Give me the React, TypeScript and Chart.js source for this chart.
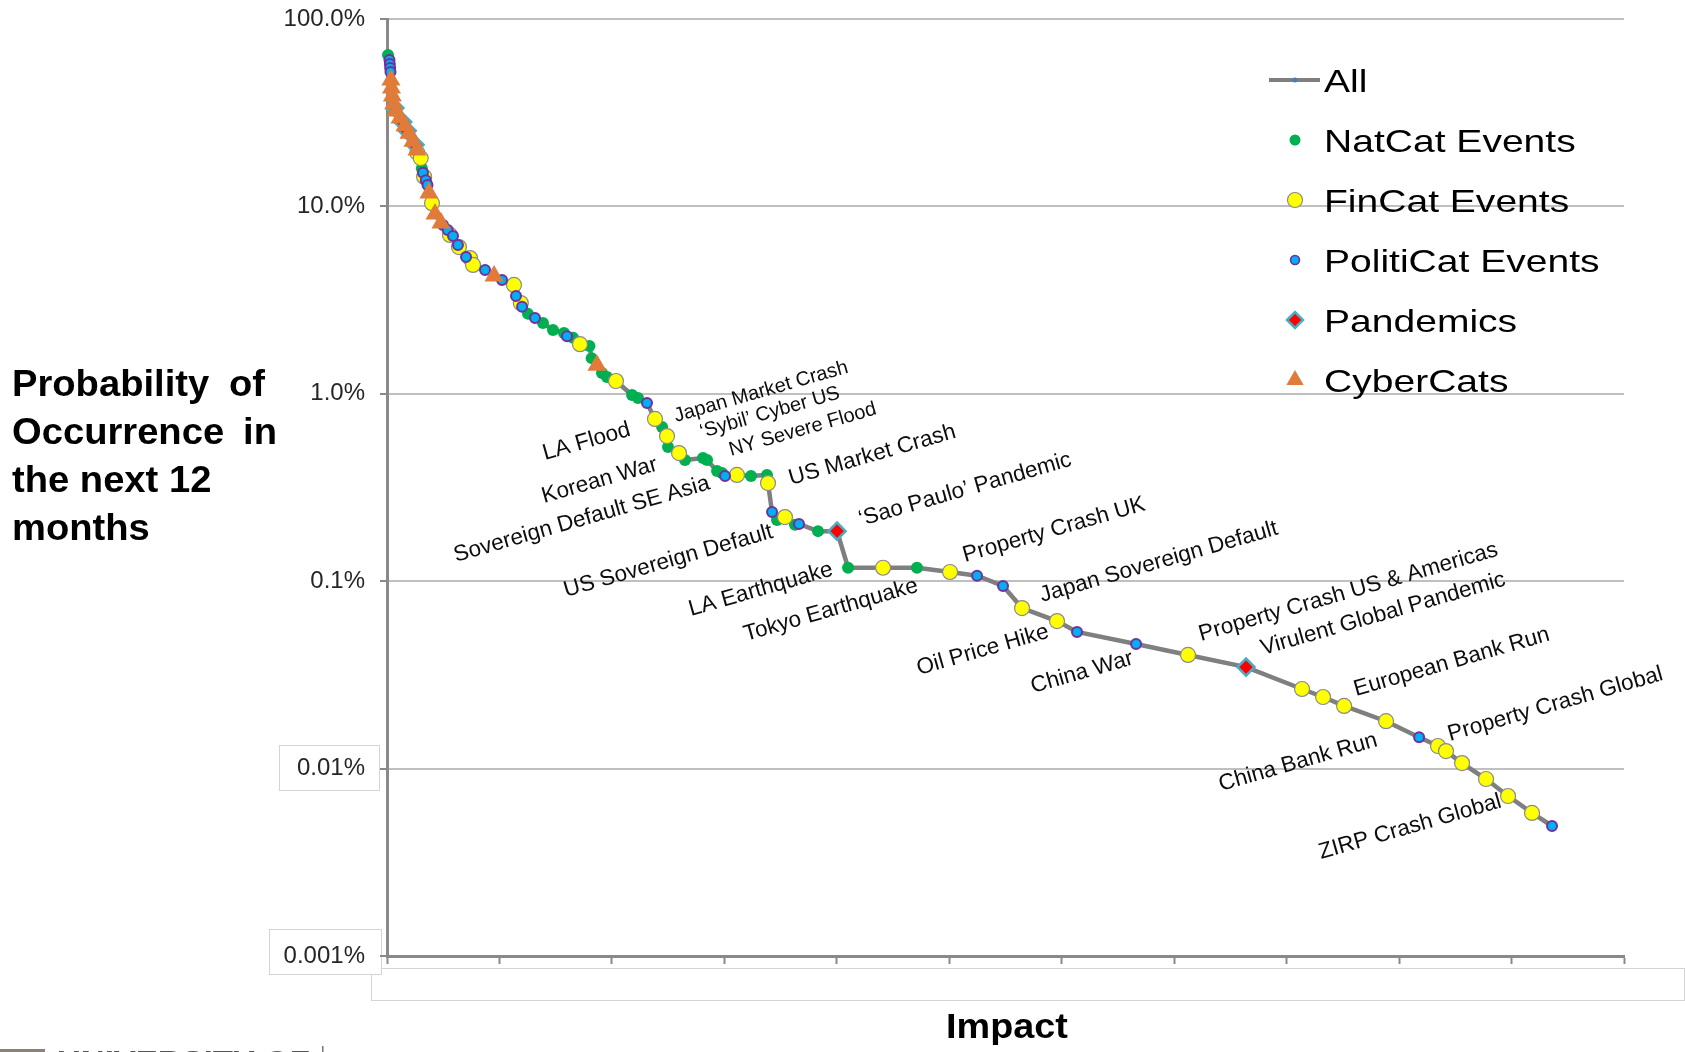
import { useEffect, useRef } from 'react';
import { Chart, registerables } from 'chart.js';

Chart.register(...registerables);

// ---------- data: [impact (arbitrary units 0-11), probability of occurrence (%)] ----------
const natCatEvents: [number, number][] = [
  [0.009, 64.2], [0.31, 16.0], [1.254, 2.67], [1.387, 2.39], [1.476, 2.19], [1.574, 2.11],
  [1.654, 1.99], [1.8, 1.8], [1.82, 1.55], [1.912, 1.29], [1.956, 1.23], [2.179, 0.985],
  [2.232, 0.95], [2.446, 0.665], [2.499, 0.52], [2.65, 0.443], [2.81, 0.454], [2.846, 0.443],
  [2.935, 0.387], [2.979, 0.378], [3.237, 0.364], [3.379, 0.369], [3.468, 0.212], [3.628, 0.2],
  [3.833, 0.185], [4.1, 0.118], [4.713, 0.118],
];

const finCatEvents: [number, number][] = [
  [0.27, 19.3], [0.3, 18.1], [0.33, 14.4], [0.4, 10.4], [0.56, 7.04], [0.64, 6.07],
  [0.738, 5.3], [0.765, 4.87], [1.129, 3.81], [1.19, 3.05], [1.716, 1.84], [2.036, 1.17],
  [2.383, 0.734], [2.49, 0.595], [2.597, 0.483], [3.112, 0.369], [3.388, 0.334], [3.539, 0.22],
  [4.411, 0.118], [5.007, 0.112], [5.647, 0.0719], [5.958, 0.0613], [7.123, 0.0404],
  [8.137, 0.0266], [8.324, 0.0241], [8.511, 0.0216], [8.884, 0.0179], [9.346, 0.0132],
  [9.417, 0.0124], [9.56, 0.0107], [9.773, 0.0088], [9.969, 0.00714], [10.182, 0.0058],
];

const politiCatEvents: [number, number][] = [
  [0.022, 60.4], [0.025, 57.5], [0.028, 54.8], [0.031, 52.1], [0.32, 15.1], [0.345, 13.8],
  [0.36, 13.0], [0.498, 7.96], [0.54, 7.48], [0.587, 6.95], [0.631, 6.22], [0.703, 5.37],
  [0.872, 4.58], [1.023, 4.05], [1.147, 3.33], [1.201, 2.91], [1.316, 2.54], [1.601, 2.03],
  [2.312, 0.893], [3.006, 0.364], [3.424, 0.234], [3.664, 0.202], [5.247, 0.107],
  [5.478, 0.0943], [6.136, 0.0536], [6.661, 0.0462], [9.178, 0.0147], [10.36, 0.00494],
];

const pandemicEvents: [number, number][] = [
  [0.07, 33.5], [0.14, 28.2], [0.18, 25.3], [0.25, 21.3], [4.002, 0.185], [7.639, 0.0348],
];

const cyberCatEvents: [number, number][] = [
  [0.035, 47.3], [0.04, 42.8], [0.048, 38.8], [0.06, 35.2], [0.08, 32.3], [0.116, 29.6],
  [0.16, 26.9], [0.196, 24.6], [0.231, 22.3], [0.267, 20.0], [0.373, 11.8], [0.427, 9.11],
  [0.48, 8.15], [0.952, 4.25], [1.867, 1.42],
];

// event annotations: [text, impact, probability %, font size] (baseline start of the label)
const eventLabels: [string, number, number, number][] = [
  ['LA Flood', 1.405, 0.443, 22.5],
  ['Korean War', 1.396, 0.2615, 22.5],
  ['Sovereign Default SE Asia', 0.614, 0.1266, 22.5],
  ['Japan Market Crash', 2.57, 0.7073, 20],
  ['\u2018Sybil\u2019 Cyber US', 2.801, 0.5809, 20],
  ['NY Severe Flood', 3.059, 0.4657, 20],
  ['US Market Crash', 3.593, 0.3262, 22.5],
  ['US Sovereign Default', 1.592, 0.0823, 22.5],
  ['\u2018Sao Paulo\u2019 Pandemic', 4.215, 0.197, 22.5],
  ['LA Earthquake', 2.703, 0.0652, 22.5],
  ['Tokyo Earthquake', 3.193, 0.048, 22.5],
  ['Property Crash UK', 5.14, 0.1266, 22.5],
  ['Japan Sovereign Default', 5.825, 0.0774, 22.5],
  ['Oil Price Hike', 4.731, 0.0316, 22.5],
  ['China War', 5.745, 0.0253, 22.5],
  ['Property Crash US & Americas', 7.239, 0.048, 22.5],
  ['Virulent Global Pandemic', 7.79, 0.0404, 22.5],
  ['European Bank Run', 8.617, 0.0244, 22.5],
  ['Property Crash Global', 9.453, 0.01404, 22.5],
  ['China Bank Run', 7.417, 0.0076, 22.5],
  ['ZIRP Crash Global', 8.306, 0.00329, 22.5],
];

const yTickValues = [0.001, 0.01, 0.1, 1, 10, 100];
const yTickLabels = ['0.001%', '0.01%', '0.1%', '1.0%', '10.0%', '100.0%'];
const xTickValues = [0, 1, 2, 3, 4, 5, 6, 7, 8, 9, 10, 11];

const seriesNames = ['All', 'NatCat Events', 'FinCat Events', 'PolitiCat Events', 'Pandemics', 'CyberCats'];
const yTitleLines: [string, string][] = [
  ['Probability', 'of'],
  ['Occurrence', 'in'],
  ['the next 12', ''],
  ['months', ''],
];
const xTitle = 'Impact';
const logoText = 'UNIVERSITY OF';

// ---------- styles ----------
const FONT = '"Liberation Sans", Arial, Helvetica, sans-serif';
const GREEN = '#00b050';
const YELLOW = '#ffff00';
const BLUE = '#00b0f0';
const PURPLE = '#7030a0';
const RED = '#ff0000';
const TEAL = '#4bacc6';
const ORANGE = '#e07b39';
const LINE_GREY = '#7f7f7f';
const AXIS_GREY = '#898989';
const GRID_GREY = '#c0c0c0';

const toPts = (arr: [number, number][]) => arr.map(([x, y]) => ({ x, y }));

function drawText(
  ctx: CanvasRenderingContext2D, text: string, x: number, y: number, font: string,
  color: string, sx = 1, align: CanvasTextAlign = 'left', angle = 0,
) {
  ctx.save();
  ctx.translate(x, y);
  if (angle) ctx.rotate(angle);
  ctx.scale(sx, 1);
  ctx.font = font;
  ctx.fillStyle = color;
  ctx.textAlign = align;
  ctx.textBaseline = 'alphabetic';
  ctx.fillText(text, 0, 0);
  ctx.restore();
}

function boxRect(ctx: CanvasRenderingContext2D, x1: number, y1: number, x2: number, y2: number) {
  ctx.save();
  ctx.fillStyle = '#ffffff';
  ctx.fillRect(x1, y1, x2 - x1, y2 - y1);
  ctx.strokeStyle = '#d4d4d4';
  ctx.lineWidth = 1;
  ctx.strokeRect(x1 + 0.5, y1 + 0.5, x2 - x1, y2 - y1);
  ctx.restore();
}

const decorPlugin = {
  id: 'decor',
  beforeDraw(chart: any) {
    const ctx = chart.ctx as CanvasRenderingContext2D;
    // faint framing boxes present in the source image
    boxRect(ctx, 371, 968, 1684, 1000);
    boxRect(ctx, 269, 929, 381, 974);
    boxRect(ctx, 279, 745, 379, 790);
  },
  afterDraw(chart: any) {
    const ctx = chart.ctx as CanvasRenderingContext2D;
    const xs = chart.scales.x;
    const ys = chart.scales.y;

    // y-axis title
    const tf = `bold 36px ${FONT}`;
    const baselines = [396, 444, 492, 540];
    const rightEdges = [265, 277, 0, 0];
    yTitleLines.forEach(([a, b], i) => {
      drawText(ctx, a, 12, baselines[i], tf, '#000', 1.06, 'left');
      if (b) drawText(ctx, b, rightEdges[i], baselines[i], tf, '#000', 1.06, 'right');
    });

    // x-axis title
    drawText(ctx, xTitle, 1007, 1038, `bold 35px ${FONT}`, '#000', 1.08, 'center');

    // event annotations
    const ang = (-16 * Math.PI) / 180;
    eventLabels.forEach(([t, ix, p, fs]) => {
      drawText(ctx, t, xs.getPixelForValue(ix), ys.getPixelForValue(p), `${fs}px ${FONT}`, '#0d0d0d', 1, 'left', ang);
    });

    // legend
    const lx = 1295;
    const tx = 1324;
    const rowY = [80, 140, 200, 260, 320, 380];
    const lf = `32px ${FONT}`;
    seriesNames.forEach((name, i) => {
      const y = rowY[i];
      ctx.save();
      if (i === 0) {
        ctx.strokeStyle = LINE_GREY;
        ctx.lineWidth = 4;
        ctx.beginPath();
        ctx.moveTo(1269, y);
        ctx.lineTo(1320, y);
        ctx.stroke();
        ctx.fillStyle = '#4a7ebb';
        ctx.beginPath();
        ctx.arc(lx, y, 2.5, 0, Math.PI * 2);
        ctx.fill();
      } else if (i === 1) {
        ctx.fillStyle = GREEN;
        ctx.beginPath();
        ctx.arc(lx, y, 5.5, 0, Math.PI * 2);
        ctx.fill();
      } else if (i === 2) {
        ctx.fillStyle = YELLOW;
        ctx.strokeStyle = '#8a8a8a';
        ctx.lineWidth = 1.2;
        ctx.beginPath();
        ctx.arc(lx, y, 7.5, 0, Math.PI * 2);
        ctx.fill();
        ctx.stroke();
      } else if (i === 3) {
        ctx.fillStyle = BLUE;
        ctx.strokeStyle = PURPLE;
        ctx.lineWidth = 1.6;
        ctx.beginPath();
        ctx.arc(lx, y, 4.5, 0, Math.PI * 2);
        ctx.fill();
        ctx.stroke();
      } else if (i === 4) {
        const r = 8;
        ctx.fillStyle = RED;
        ctx.strokeStyle = TEAL;
        ctx.lineWidth = 2.5;
        ctx.beginPath();
        ctx.moveTo(lx - r, y);
        ctx.lineTo(lx, y - r);
        ctx.lineTo(lx + r, y);
        ctx.lineTo(lx, y + r);
        ctx.closePath();
        ctx.fill();
        ctx.stroke();
      } else {
        const r = 10;
        ctx.fillStyle = ORANGE;
        ctx.beginPath();
        ctx.moveTo(lx, y - r);
        ctx.lineTo(lx + r * 0.866, y + r * 0.5);
        ctx.lineTo(lx - r * 0.866, y + r * 0.5);
        ctx.closePath();
        ctx.fill();
      }
      ctx.restore();
      drawText(ctx, name, tx, y + 11.5, lf, '#000', 1.22, 'left');
    });

    // partially visible logo at the very bottom edge
    ctx.save();
    ctx.fillStyle = '#8c8275';
    ctx.fillRect(0, 1049, 45, 3);
    ctx.fillStyle = '#777';
    ctx.fillRect(322, 1046, 1.5, 6);
    ctx.restore();
    drawText(ctx, logoText, 57, 1071, `bold 30px ${FONT}`, '#555', 1.1, 'left');
  },
};

export default function App() {
  const canvasRef = useRef<HTMLCanvasElement | null>(null);

  useEffect(() => {
    if (!canvasRef.current) return;
    const allPoints = [
      ...natCatEvents, ...finCatEvents, ...politiCatEvents, ...pandemicEvents, ...cyberCatEvents,
    ]
      .slice()
      .sort((a, b) => a[0] - b[0] || b[1] - a[1]);

    const chart = new Chart(canvasRef.current, {
      type: 'scatter',
      data: {
        datasets: [
          {
            label: seriesNames[0],
            data: toPts(allPoints),
            showLine: true,
            borderColor: LINE_GREY,
            borderWidth: 4.5,
            pointRadius: 2.5,
            pointBackgroundColor: '#4a7ebb',
            pointBorderWidth: 0,
            order: 6,
            clip: false,
          },
          {
            label: seriesNames[1],
            data: toPts(natCatEvents),
            pointRadius: 6,
            pointBackgroundColor: GREEN,
            pointBorderColor: GREEN,
            pointBorderWidth: 0,
            order: 5,
            clip: false,
          },
          {
            label: seriesNames[2],
            data: toPts(finCatEvents),
            pointRadius: 7.5,
            pointBackgroundColor: YELLOW,
            pointBorderColor: '#8a8a8a',
            pointBorderWidth: 1.2,
            order: 4,
            clip: false,
          },
          {
            label: seriesNames[3],
            data: toPts(politiCatEvents),
            pointRadius: 5,
            pointBackgroundColor: BLUE,
            pointBorderColor: PURPLE,
            pointBorderWidth: 2,
            order: 3,
            clip: false,
          },
          {
            label: seriesNames[4],
            data: toPts(pandemicEvents),
            pointStyle: 'rectRot',
            pointRadius: 8.5,
            pointBackgroundColor: RED,
            pointBorderColor: TEAL,
            pointBorderWidth: 2.5,
            order: 2,
            clip: false,
          },
          {
            label: seriesNames[5],
            data: toPts(cyberCatEvents),
            pointStyle: 'triangle',
            pointRadius: 11,
            pointBackgroundColor: ORANGE,
            pointBorderColor: ORANGE,
            pointBorderWidth: 0,
            order: 1,
            clip: false,
          },
        ],
      },
      options: {
        responsive: false,
        animation: false,
        events: [],
        layout: { padding: { left: 0, right: 61, top: 19, bottom: 0 } },
        plugins: {
          legend: { display: false },
          tooltip: { enabled: false },
        },
        scales: {
          x: {
            type: 'linear',
            min: 0,
            max: 11,
            afterBuildTicks: (scale: any) => {
              scale.ticks = xTickValues.map((v) => ({ value: v }));
            },
            afterFit: (scale: any) => {
              scale.height = 96;
              scale.paddingLeft = 0;
              scale.paddingRight = 0;
            },
            ticks: { display: false },
            grid: {
              drawOnChartArea: false,
              drawTicks: true,
              tickLength: 8,
              tickColor: AXIS_GREY,
              tickWidth: 2,
              color: AXIS_GREY,
            },
            border: { display: true, color: AXIS_GREY, width: 3 },
          },
          y: {
            type: 'logarithmic',
            min: 0.001,
            max: 100,
            afterBuildTicks: (scale: any) => {
              scale.ticks = yTickValues.map((v) => ({ value: v }));
            },
            afterFit: (scale: any) => {
              scale.width = 387;
              scale.paddingTop = 8;
              scale.paddingBottom = 8;
            },
            ticks: {
              padding: 15,
              color: '#262626',
              font: { family: FONT, size: 24 },
              callback: (_v: any, index: number) => yTickLabels[index],
            },
            grid: {
              color: GRID_GREY,
              lineWidth: 2,
              drawTicks: true,
              tickLength: 7,
              tickColor: AXIS_GREY,
              tickWidth: 2,
            },
            border: { display: true, color: AXIS_GREY, width: 3 },
          },
        },
      } as any,
      plugins: [decorPlugin],
    });

    return () => chart.destroy();
  }, []);

  return (
    <div
      style={{
        position: 'fixed',
        left: 0,
        top: 0,
        width: 1685,
        height: 1052,
        background: '#ffffff',
        overflow: 'hidden',
      }}
    >
      <canvas ref={canvasRef} width={1685} height={1052} style={{ display: 'block' }} />
    </div>
  );
}
